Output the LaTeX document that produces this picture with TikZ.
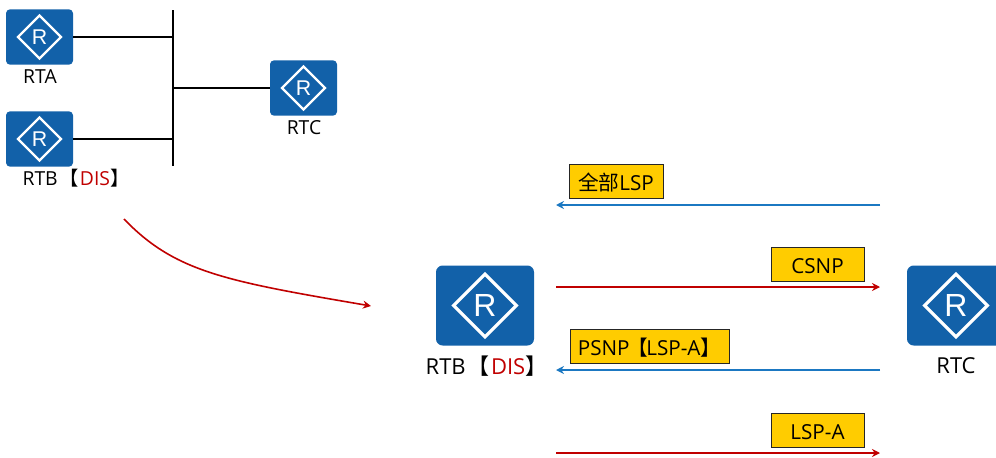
\documentclass[tikz,border=0pt]{standalone}
\usepackage{fontspec}
\setmainfont{Open Sans}
\newfontfamily\cjk{Noto Sans CJK SC}
\newfontfamily\markfont{Liberation Sans}
\usetikzlibrary{shapes.geometric,scopes,arrows.meta}
\definecolor{routerblue}{HTML}{1261A9}
\definecolor{linkblue}{HTML}{1B78C2}
\definecolor{disred}{HTML}{C00000}
\definecolor{tagyellow}{HTML}{FFCC00}
\newcommand{\dis}{RTB\kern.1em{\cjk【}\kern.05em\textcolor{disred}{DIS}{\cjk】}}
\tikzset{
  routersmall/.style={fill=routerblue,rounded corners=3pt,minimum width=50.25pt,minimum height=41.5pt,inner sep=0},
  routerbig/.style={fill=routerblue,rounded corners=5pt,minimum width=73.5pt,minimum height=60pt,inner sep=0},
  marksmall/.style={diamond,aspect=1,draw=white,line width=1.7pt,text=white,minimum size=33pt,inner sep=0,font=\markfont\fontsize{16}{16}\selectfont},
  markbig/.style={diamond,aspect=1,draw=white,line width=2.4pt,text=white,minimum size=48pt,inner sep=0,font=\markfont\fontsize{24}{24}\selectfont},
  namesmall/.style={font=\fontsize{14.5}{15}\selectfont,inner sep=0},
  namebig/.style={font=\fontsize{16.5}{17}\selectfont,inner sep=0},
  tag/.style={draw=black!85,fill=tagyellow,line width=.7pt,minimum height=26pt,inner sep=0,text height=14pt,text depth=0pt,font=\fontsize{15.5}{16}\selectfont},
}
\begin{document}
\begin{tikzpicture}[x=.75pt,y=-.75pt]
\useasboundingbox (0,0) rectangle (996,457);

\path node[routersmall] (rta) at (39.5,37) {}     node[marksmall] (rtamark) at (rta) {R}
      node[namesmall]   (rtaname) at (40,77) {RTA}
      node[routersmall] (rtb) at (39.5,139) {}    node[marksmall] (rtbmark) at (rtb) {R}
      node[namesmall]   (rtbname) at (76,178) {\dis}
      node[routersmall] (rtc) at (303.5,88) {}    node[marksmall] (rtcmark) at (rtc) {R}
      node[namesmall]   (rtcname) at (304,128) {RTC}
      node[routerbig]   (rtbbig) at (485,305.5) {} node[markbig] (rtbbigmark) at (rtbbig) {R}
      node[namebig]     (rtbbigname) at (486.5,366) {\dis}
      node[routerbig]   (rtcbig) at (956,305.5) {} node[markbig] (rtcbigmark) at (rtcbig) {R}
      node[namebig]     (rtcbigname) at (956,366) {RTC}
      node[tag,minimum width=70.5pt]  (all)  at (616,181.5) {{\cjk 全部}LSP}
      node[tag,minimum width=69.75pt] (csnp) at (817.5,264.5) {CSNP}
      node[tag,minimum width=119.25pt] (psnp) at (649.5,346.5) {PSNP\kern-1.5pt{\cjk【}\kern-1.5pt LSP-A{\cjk】}}
      node[tag,minimum width=69.75pt] (lspa) at (817.5,430.5) {LSP-A};

\coordinate (bustop) at (173,10);
\coordinate (busbot) at (173,166);
\coordinate (curvea) at (124,219);
\coordinate (curveb) at (371,306);
\coordinate (allr) at (880,205);
\coordinate (alll) at (556,205);
\coordinate (csnpl) at (556,287);
\coordinate (csnpr) at (880,287);
\coordinate (psnpr) at (880,370);
\coordinate (psnpl) at (556,370);
\coordinate (lspal) at (556,453);
\coordinate (lspar) at (880,453);

{ [line width=1.4pt]
  \draw (bustop) -- (busbot);
  \draw (rta.east) -- (rta.east -| bustop);
  \draw (rtb.east) -- (rtb.east -| bustop);
  \draw (rtc.west) -- (rtc.west -| bustop);
}
{ [-{Stealth[length=6pt,width=6pt]},line width=1.2pt]
  \draw[linkblue] (allr) -- (alll);
  \draw[disred]   (csnpl) -- (csnpr);
  \draw[linkblue] (psnpr) -- (psnpl);
  \draw[disred]   (lspal) -- (lspar);
  \draw[disred]   (curvea) .. controls (175,272) and (225,281) .. (curveb);
}
\end{tikzpicture}
\end{document}
